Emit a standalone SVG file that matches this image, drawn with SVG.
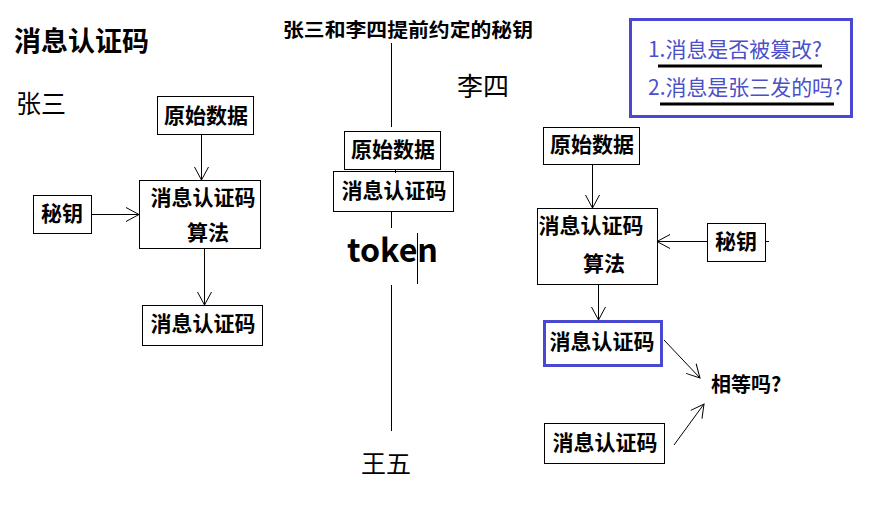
<svg xmlns="http://www.w3.org/2000/svg" width="894" height="528" viewBox="0 0 894 528">
<style>
.b{fill:#fff;stroke:#000;stroke-width:1}
.bb{fill:#fff;stroke:#4848d0;stroke-width:3}
.t{font-family:"Noto Sans CJK SC","Noto Sans",sans-serif;font-weight:bold;font-size:21px;fill:#000;text-anchor:middle}
.r{font-family:"Noto Sans CJK SC","Noto Sans",sans-serif;font-weight:normal;fill:#000}
.q{font-family:"Noto Sans CJK SC","Noto Sans",sans-serif;font-size:21px;fill:#4b4fc8}
.c line{stroke:#000;stroke-width:1}
.a{marker-end:url(#ah)}
</style>
<defs>
<marker id="ah" markerUnits="userSpaceOnUse" markerWidth="16" markerHeight="16" refX="13" refY="7" orient="auto" overflow="visible">
<path d="M0,0 L13,7 L0,14" fill="none" stroke="#000" stroke-width="1"/>
</marker>
</defs>
<rect width="894" height="528" fill="#fff"/>

<g id="labels">
<text class="t" x="14" y="51" style="text-anchor:start;font-size:27px">消息认证码</text>
<text class="r" x="16" y="113" font-size="25">张三</text>
<text class="t" x="408" y="37" textLength="250" lengthAdjust="spacingAndGlyphs" style="font-size:19px">张三和李四提前约定的秘钥</text>
<text class="r" x="457" y="96" font-size="26">李四</text>
<text class="r" x="361" y="473" font-size="25">王五</text>
<text class="t" x="347" y="262" style="text-anchor:start;font-size:32px" textLength="91" lengthAdjust="spacingAndGlyphs">token</text>
<text class="t" x="711" y="392" style="text-anchor:start;font-size:20px">相等吗?</text>
</g>

<g id="question-box">
<rect class="bb" x="630.5" y="19.5" width="221" height="97"/>
<text class="q" x="648" y="57" textLength="174" lengthAdjust="spacingAndGlyphs">1.消息是否被篡改?</text>
<line x1="658" y1="66" x2="822" y2="66" stroke="#000" stroke-width="3"/>
<text class="q" x="648" y="95" textLength="195" lengthAdjust="spacingAndGlyphs">2.消息是张三发的吗?</text>
<line x1="660" y1="104" x2="834" y2="104" stroke="#000" stroke-width="3"/>
</g>

<g id="zs-data"><rect class="b" x="157.5" y="96.5" width="96" height="38"/><text class="t" x="206" y="123">原始数据</text></g>
<g id="zs-key"><rect class="b" x="33.5" y="195.5" width="58" height="38"/><text class="t" x="62" y="221">秘钥</text></g>
<g id="zs-alg"><rect class="b" x="139.5" y="180.5" width="121" height="68"/><text class="t" x="203" y="205">消息认证码</text><text class="t" x="208" y="240">算法</text></g>
<g id="zs-mac"><rect class="b" x="142.5" y="305.5" width="120" height="40"/><text class="t" x="203" y="331">消息认证码</text></g>

<g id="mid-data"><rect class="b" x="344.5" y="131.5" width="96" height="38"/><text class="t" x="393" y="157">原始数据</text></g>
<g id="mid-mac"><rect class="b" x="333.5" y="171.5" width="120" height="40"/><text class="t" x="394" y="198">消息认证码</text></g>

<g id="ls-data"><rect class="b" x="543.5" y="127.5" width="96" height="37"/><text class="t" x="592" y="152">原始数据</text></g>
<g id="ls-key"><rect class="b" x="707.5" y="223.5" width="58" height="38"/><text class="t" x="736" y="249">秘钥</text></g>
<g id="ls-alg"><rect class="b" x="537.5" y="208.5" width="120" height="76"/><text class="t" x="591" y="233">消息认证码</text><text class="t" x="604" y="271">算法</text></g>
<g id="ls-mac"><rect class="bb" x="544.5" y="321.5" width="117" height="44"/><text class="t" x="602" y="349">消息认证码</text></g>
<g id="ls-recv"><rect class="b" x="544.5" y="423.5" width="120" height="40"/><text class="t" x="605" y="450">消息认证码</text></g>

<g id="connectors" class="c">
<line class="a" x1="201.5" y1="134" x2="201.5" y2="180"/>
<line class="a" x1="91" y1="214.5" x2="139" y2="214.5"/>
<line class="a" x1="204.5" y1="249" x2="204.5" y2="305"/>
<line x1="391.5" y1="43" x2="391.5" y2="127"/>
<line x1="395.5" y1="169" x2="395.5" y2="173"/>
<line x1="391.5" y1="212" x2="391.5" y2="228"/>
<line x1="417.5" y1="233" x2="417.5" y2="284"/>
<line x1="391.5" y1="285" x2="391.5" y2="431"/>
<line class="a" x1="592.5" y1="164" x2="592.5" y2="208"/>
<line class="a" x1="707" y1="241.5" x2="657" y2="241.5"/>
<line x1="766" y1="241.5" x2="769" y2="241.5"/>
<line class="a" x1="598.5" y1="284" x2="598.5" y2="320"/>
<line class="a" x1="664" y1="340" x2="700" y2="378"/>
<line class="a" x1="674" y1="445" x2="704" y2="404"/>
</g>
</svg>
